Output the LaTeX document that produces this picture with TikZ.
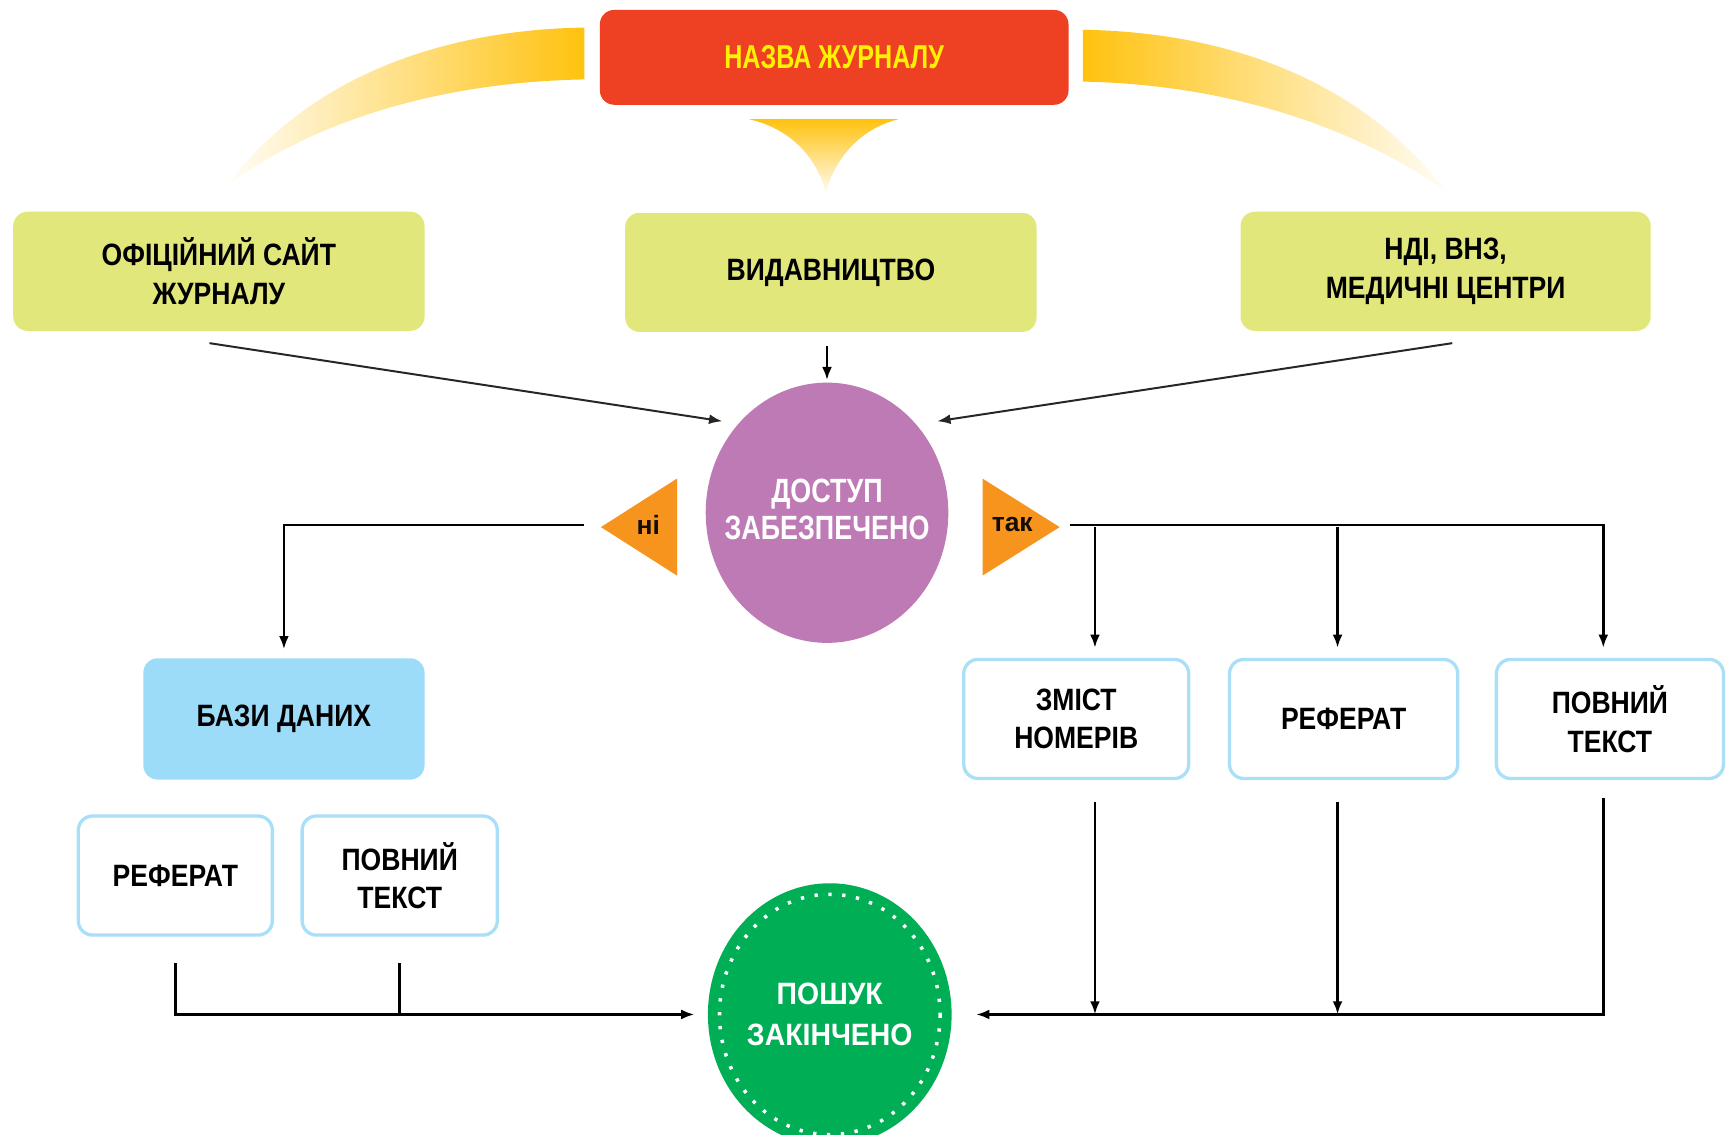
\documentclass[tikz,border=0pt]{standalone}
\usepackage{fontspec}
\setmainfont{Liberation Sans}
\newfontfamily\boxf[FakeStretch=0.86]{Liberation Sans}
\newfontfamily\titlef[FakeStretch=0.76]{Liberation Sans}
\newfontfamily\dosf[FakeStretch=0.8]{Liberation Sans}
\newfontfamily\posf[FakeStretch=0.92]{Liberation Sans}
\usetikzlibrary{arrows.meta,shapes.geometric,calc}
\definecolor{titlered}{HTML}{EE4123}
\definecolor{titletext}{HTML}{FFF200}
\definecolor{arcY}{HTML}{FFC20E}
\definecolor{boxY}{HTML}{E1E77B}
\definecolor{purp}{HTML}{BE7AB4}
\definecolor{grn}{HTML}{00AE55}
\definecolor{dbblue}{HTML}{9DDCF9}
\definecolor{bordblue}{HTML}{A9E0F8}
\definecolor{triorange}{HTML}{F7941D}
\tikzset{
  titlebox/.style={rectangle, rounded corners=13pt, fill=titlered, minimum width=425pt, minimum height=86pt,
    font=\titlef\bfseries\fontsize{30}{36}\selectfont, text=titletext},
  ybox/.style={rectangle, rounded corners=13pt, fill=boxY, minimum width=373pt, minimum height=108pt,
    align=center, font=\boxf\bfseries\fontsize{28}{35}\selectfont},
  dbbox/.style={rectangle, rounded corners=13pt, fill=dbblue, minimum width=255pt, minimum height=110pt,
    align=center, font=\boxf\bfseries\fontsize{28}{35}\selectfont},
  wbox/.style={rectangle, rounded corners=13pt, draw=bordblue, line width=3pt, fill=white, minimum height=108pt,
    align=center, font=\boxf\bfseries\fontsize{28}{35}\selectfont},
  purpcirc/.style={ellipse, fill=purp, minimum width=220pt, minimum height=236pt, inner sep=0pt},
  dostext/.style={align=center, text=white, inner sep=0pt, yshift=3pt, font=\dosf\bfseries\fontsize{30.5}{34}\selectfont},
  grncirc/.style={ellipse, fill=grn, minimum width=221pt, minimum height=238pt, inner sep=0pt},
  postext/.style={align=center, text=white, inner sep=0pt, font=\posf\bfseries\fontsize{28}{37}\selectfont},
  tritext/.style={font=\bfseries\fontsize{24}{28}\selectfont, text=black!90!brown, inner sep=0pt},
  conn/.style={line width=2.4pt, draw=black},
  diag/.style={line width=1.8pt, draw=black!85},
  arr/.style={-{Latex[length=12pt,width=9pt]}},
}
\begin{document}
\begin{tikzpicture}[x=1pt,y=-1pt]
\useasboundingbox (0,0) rectangle (1568,1029);
\fill[white] (0,0) rectangle (1568,1029);
% decorative arcs and funnel
\shade[left color=arcY!4, right color=arcY] (530,25) .. controls (400,27) and (280,70) .. (207,167)
   .. controls (300,100) and (420,74) .. (530,72) -- cycle;
\shade[left color=arcY, right color=arcY!4] (982,27) .. controls (1115,29) and (1235,74) .. (1311,173)
   .. controls (1215,106) and (1095,76) .. (982,74) -- cycle;
\shade[top color=arcY, bottom color=arcY!5] (679,108) -- (815,108) .. controls (775,118) and (755,150) .. (749,175)
   .. controls (743,150) and (723,118) .. (679,108) -- cycle;
% nodes
\node[titlebox] (title) at (756.5,52) {НАЗВА ЖУРНАЛУ};
\node[ybox] (office) at (198.5,246) {ОФІЦІЙНИЙ САЙТ\\ЖУРНАЛУ};
\node[ybox] (vyd) at (753.5,247) {ВИДАВНИЦТВО};
\node[ybox, minimum width=372pt] (ndi) at (1311,246) {НДІ, ВНЗ,\\МЕДИЧНІ ЦЕНТРИ};
\node[purpcirc, label={[dostext]center:ДОСТУП\\ЗАБЕЗПЕЧЕНО}] (dostup) at (750,465) {};
\fill[triorange] (614,434) -- (614,522) -- (545,478) -- cycle;
\node[tritext] (ni) at (588,476) {ні};
\fill[triorange] (891,434) -- (891,522) -- (961,478) -- cycle;
\node[tritext] (tak) at (918,476) {так};
\node[dbbox] (bazy) at (257.5,652) {БАЗИ ДАНИХ};
\node[wbox, minimum width=176pt] (ref1) at (159,794) {РЕФЕРАТ};
\node[wbox, minimum width=177pt] (pov1) at (362.5,794) {ПОВНИЙ\\ТЕКСТ};
\node[wbox, minimum width=204pt] (zmist) at (976,652) {ЗМІСТ\\НОМЕРІВ};
\node[wbox, minimum width=207pt] (ref2) at (1218.5,652) {РЕФЕРАТ};
\node[wbox, minimum width=206pt] (pov2) at (1460,652) {ПОВНИЙ\\ТЕКСТ};
\node[grncirc, label={[postext]center:ПОШУК\\ЗАКІНЧЕНО}] (poshuk) at (752.5,920) {};
\draw[white, line width=3.2pt, dash pattern=on 3pt off 9.6pt] (poshuk.center) ellipse [x radius=100, y radius=109];
% coordinates
\coordinate (a1) at (655,382);
\coordinate (a2) at (850,382);
\coordinate (j1) at (993,478);
\coordinate (j2) at (1213,478);
\coordinate (j3) at (1454,478);
% connectors top
\draw[diag, arr] ([xshift=-8.5pt,yshift=-11pt]office.south) -- (a1);
\draw[diag, arr] ([xshift=6pt,yshift=-11pt]ndi.south) -- (a2);
\draw[conn, arr, shorten <=13pt, shorten >=2pt] (dostup.north |- vyd.south) -- (dostup.north);
% no / yes
\draw[conn, arr, shorten >=8pt] ([xshift=-58pt]ni.center) -| (bazy.north);
\draw[conn, arr, shorten >=9pt] ([xshift=52pt]tak.center) -| (pov2.north -| j3);
\draw[conn, arr, shorten >=9pt] (j1) -- (zmist.north -| j1);
\draw[conn, arr, shorten >=9pt] (j2) -- (ref2.north -| j2);
% bottom
\draw[conn, arr, shorten <=24pt, shorten >=12pt] (ref1.south) |- (poshuk.west);
\draw[conn, shorten <=24pt] (pov1.south) -- (pov1.south |- poshuk.west);
\draw[conn, arr, shorten <=16pt, shorten >=22pt] (pov2.south -| j3) |- (poshuk.east);
\draw[conn, arr, shorten <=20pt] (zmist.south -| j1) -- (j1 |- poshuk.east);
\draw[conn, arr, shorten <=20pt] (ref2.south -| j2) -- (j2 |- poshuk.east);
\end{tikzpicture}
\end{document}
